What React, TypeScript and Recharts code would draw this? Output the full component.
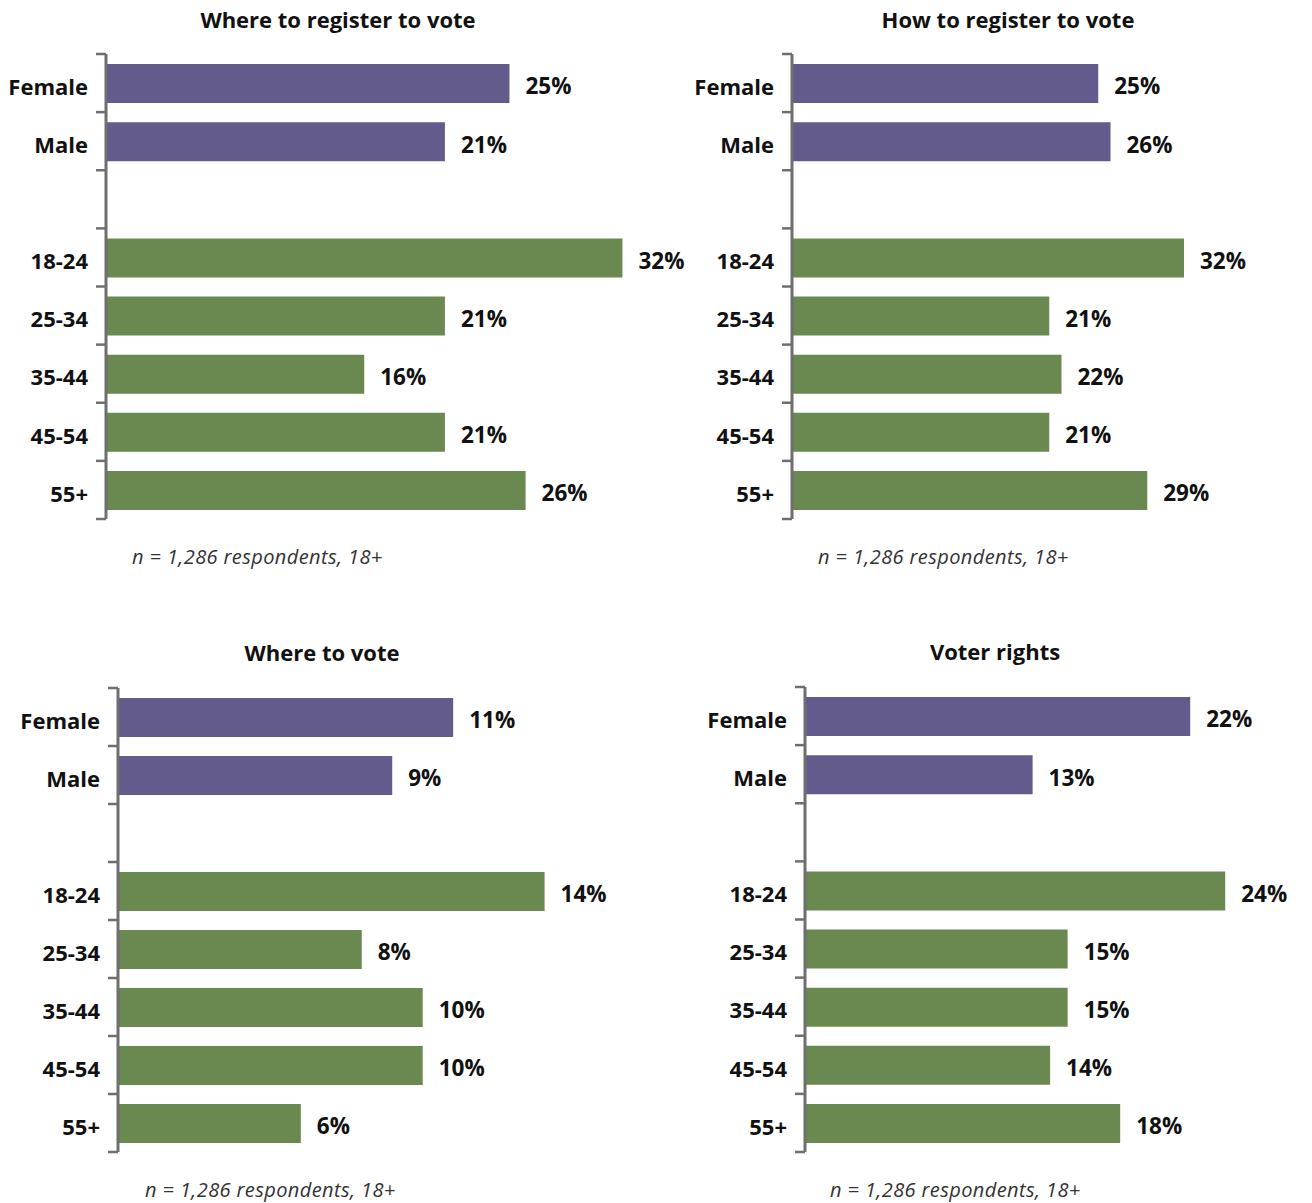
import React from 'react';
import { BarChart, Bar, XAxis, YAxis, Cell, LabelList } from 'recharts';

const categories = ['Female', 'Male', '', '18-24', '25-34', '35-44', '45-54', '55+'];
const groups = ['gender', 'gender', 'gap', 'age', 'age', 'age', 'age', 'age'];

const registerWhereValues = [25, 21, null, 32, 21, 16, 21, 26];
const registerHowValues = [25, 26, null, 32, 21, 22, 21, 29];
const whereToVoteValues = [11, 9, null, 14, 8, 10, 10, 6];
const voterRightsValues = [22, 13, null, 24, 15, 15, 14, 18];

const titles = ['Where to register to vote', 'How to register to vote', 'Where to vote', 'Voter rights'];
const sampleNote = 'n = 1,286 respondents, 18+';

const groupColors: Record<string, string> = {
  gender: '#635B8B',
  age: '#6A8950',
  gap: 'transparent',
};

const FONT = '"Open Sans", Lato, sans-serif';
const AXIS_COLOR = '#6F6F6F';
const AXIS_W = 106;
const PAD = 10;

// where each panel sits on the page
const layouts = [
  { axisX: 106, plotTop: 54, plotBottom: 519, domainMax: 36, plotWidth: 581, titleX: 338, titleY: 20, noteX: 132, noteY: 557 },
  { axisX: 792, plotTop: 54, plotBottom: 519, domainMax: 40, plotWidth: 490, titleX: 1008, titleY: 20, noteX: 818, noteY: 557 },
  { axisX: 118, plotTop: 688, plotBottom: 1152, domainMax: 17, plotWidth: 518, titleX: 322, titleY: 653, noteX: 145, noteY: 1190 },
  { axisX: 805, plotTop: 687, plotBottom: 1152, domainMax: 28.5, plotWidth: 499, titleX: 995, titleY: 652, noteX: 830, noteY: 1190 },
];

const CategoryTick = (props: any) => {
  const { y, payload, index, band, count } = props;
  const top = y - band / 2;
  return (
    <g>
      <line x1={AXIS_W - 10} x2={AXIS_W} y1={top} y2={top} stroke={AXIS_COLOR} strokeWidth={2.5} />
      {index === count - 1 && (
        <line x1={AXIS_W - 10} x2={AXIS_W} y1={y + band / 2} y2={y + band / 2} stroke={AXIS_COLOR} strokeWidth={2.5} />
      )}
      <text
        x={AXIS_W - 18}
        y={y + 4}
        dy="0.35em"
        textAnchor="end"
        fontFamily={FONT}
        fontSize={22}
        fontWeight={700}
        fill="#111"
      >
        {payload.value}
      </text>
    </g>
  );
};

const ValueLabel = (props: any) => {
  const { x, y, width, height, value } = props;
  if (value == null) return null;
  return (
    <text
      x={x + width + 16}
      y={y + height / 2 + 3}
      dy="0.35em"
      fontFamily={FONT}
      fontSize={22.5}
      fontWeight={700}
      fill="#111"
    >
      {`${value}%`}
    </text>
  );
};

const Panel = ({ title, values, layout }: { title: string; values: (number | null)[]; layout: any }) => {
  const data = categories.map((name, i) => ({ name, value: values[i], group: groups[i] }));
  const plotH = layout.plotBottom - layout.plotTop;
  const band = plotH / categories.length;
  const width = AXIS_W + layout.plotWidth + 10;

  return (
    <>
      <div
        style={{
          position: 'absolute',
          left: layout.titleX - 300,
          top: layout.titleY - 14,
          width: 600,
          textAlign: 'center',
          fontFamily: FONT,
          fontSize: 22,
          lineHeight: '26px',
          fontWeight: 700,
          color: '#111',
        }}
      >
        {title}
      </div>
      <div style={{ position: 'absolute', left: layout.axisX - AXIS_W, top: layout.plotTop - PAD }}>
        <BarChart
          layout="vertical"
          width={width}
          height={plotH + PAD * 2}
          data={data}
          margin={{ top: PAD, bottom: PAD, left: 0, right: 10 }}
          barSize={39}
        >
          <XAxis type="number" hide domain={[0, layout.domainMax]} />
          <YAxis
            type="category"
            dataKey="name"
            width={AXIS_W}
            interval={0}
            axisLine={{ stroke: AXIS_COLOR, strokeWidth: 3 }}
            tickLine={false}
            tick={<CategoryTick band={band} count={categories.length} />}
          />
          <Bar dataKey="value" isAnimationActive={false}>
            {data.map((d, i) => (
              <Cell key={i} fill={groupColors[d.group]} />
            ))}
            <LabelList dataKey="value" content={<ValueLabel />} />
          </Bar>
        </BarChart>
      </div>
      <div
        style={{
          position: 'absolute',
          left: layout.noteX,
          top: layout.noteY - 13,
          fontFamily: FONT,
          fontSize: 20,
          lineHeight: '26px',
          letterSpacing: 0.4,
          fontStyle: 'italic',
          color: '#333',
          whiteSpace: 'nowrap',
        }}
      >
        {sampleNote}
      </div>
    </>
  );
};

const App = () => {
  const series = [registerWhereValues, registerHowValues, whereToVoteValues, voterRightsValues];
  return (
    <div style={{ position: 'absolute', left: 0, top: 0, width: 1312, height: 1203, background: '#fff' }}>
      {series.map((values, i) => (
        <Panel key={i} title={titles[i]} values={values} layout={layouts[i]} />
      ))}
    </div>
  );
};

export default App;
